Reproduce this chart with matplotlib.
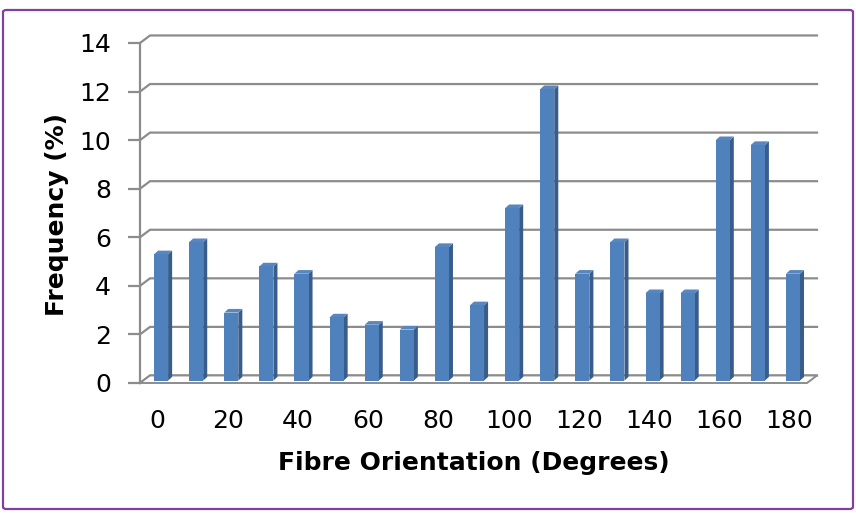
import numpy as np
import matplotlib
matplotlib.use("Agg")
import matplotlib.pyplot as plt
from matplotlib.patches import Polygon, FancyBboxPatch

# fibre orientation histogram, 10 degree bins
angles = [0, 10, 20, 30, 40, 50, 60, 70, 80, 90,
          100, 110, 120, 130, 140, 150, 160, 170, 180]
freq = [5.2, 5.7, 2.8, 4.7, 4.4, 2.6, 2.3, 2.1, 5.5, 3.1,
        7.1, 12.0, 4.4, 5.7, 3.6, 3.6, 9.9, 9.7, 4.4]
yticks = [0, 2, 4, 6, 8, 10, 12, 14]

FRONT = "#4F81BD"
SIDE = "#385D8A"
TOP = "#5A86BE"
GRID = "#8C8C8C"

W, H, DPI = 856, 513, 100
fig = plt.figure(figsize=(W / DPI, H / DPI), dpi=DPI)
ax = fig.add_axes([140 / W, 130 / H, 667 / W, 340 / H])

n = len(angles)
x = np.arange(n)
ax.set_xlim(-0.5, n - 0.5)
ax.set_ylim(0, 14)

# depth offsets (data units) for the fake 3D look
wall_dx, wall_dy = 0.285, 0.31      # back wall
mid_dx, mid_dy = 0.1, 0.1           # plane the columns stand on
side_dx, side_dy = 0.115, 0.15      # column thickness
bw = 0.4

# back wall gridlines plus the short diagonal to the left axis
for y in yticks:
    ax.plot([-0.5, -0.5 + wall_dx, n - 0.5 + wall_dx],
            [y, y + wall_dy, y + wall_dy],
            color=GRID, lw=1.6, clip_on=False, zorder=1)

# floor
floor = Polygon([(-0.5, 0), (n - 0.5, 0), (n - 0.5 + wall_dx, wall_dy),
                 (-0.5 + wall_dx, wall_dy)], closed=True,
                facecolor="white", edgecolor=GRID, lw=1.4,
                clip_on=False, zorder=2)
ax.add_patch(floor)

# columns: front face with bar(), side and top faces as polygons
bars = ax.bar(x + mid_dx, freq, width=bw, bottom=mid_dy, color=FRONT,
              edgecolor="none", zorder=4, clip_on=False)
for xi, v in zip(x, freq):
    xl = xi + mid_dx - bw / 2
    xr = xi + mid_dx + bw / 2
    b = mid_dy
    t = mid_dy + v
    ax.add_patch(Polygon([(xr, b), (xr + side_dx, b + side_dy),
                          (xr + side_dx, t + side_dy), (xr, t)],
                         closed=True, facecolor=SIDE, edgecolor="none",
                         zorder=3, clip_on=False))
    ax.add_patch(Polygon([(xl, t), (xr, t), (xr + side_dx, t + side_dy),
                          (xl + side_dx, t + side_dy)],
                         closed=True, facecolor=TOP, edgecolor="none",
                         zorder=3, clip_on=False))

for s in ["top", "right", "bottom"]:
    ax.spines[s].set_visible(False)
ax.spines["left"].set_color(GRID)
ax.spines["left"].set_linewidth(1.6)

ax.set_yticks(yticks)
ax.set_yticklabels([str(v) for v in yticks])
ax.set_xticks(x[::2])
ax.set_xticklabels([str(a) for a in angles[::2]])
ax.tick_params(axis="y", length=9, width=1.6, color=GRID, pad=12,
               labelsize=18)
ax.tick_params(axis="x", length=0, pad=19, labelsize=18)

fig.text(474 / W, 1 - 463 / H, "Fibre Orientation (Degrees)", fontsize=18,
         fontweight="bold", ha="center", va="center")
fig.text(57 / W, 1 - 215 / H, "Frequency (%)", fontsize=18,
         fontweight="bold", ha="center", va="center", rotation=90)

# chart area border
fig.patches.append(FancyBboxPatch((3 / W, 4 / H), 850 / W, 499 / H,
                                  boxstyle="round,pad=0,rounding_size=0.004",
                                  transform=fig.transFigure,
                                  facecolor="none", edgecolor="#8040A0",
                                  lw=1.6))

fig.savefig("out.png", dpi=DPI)
